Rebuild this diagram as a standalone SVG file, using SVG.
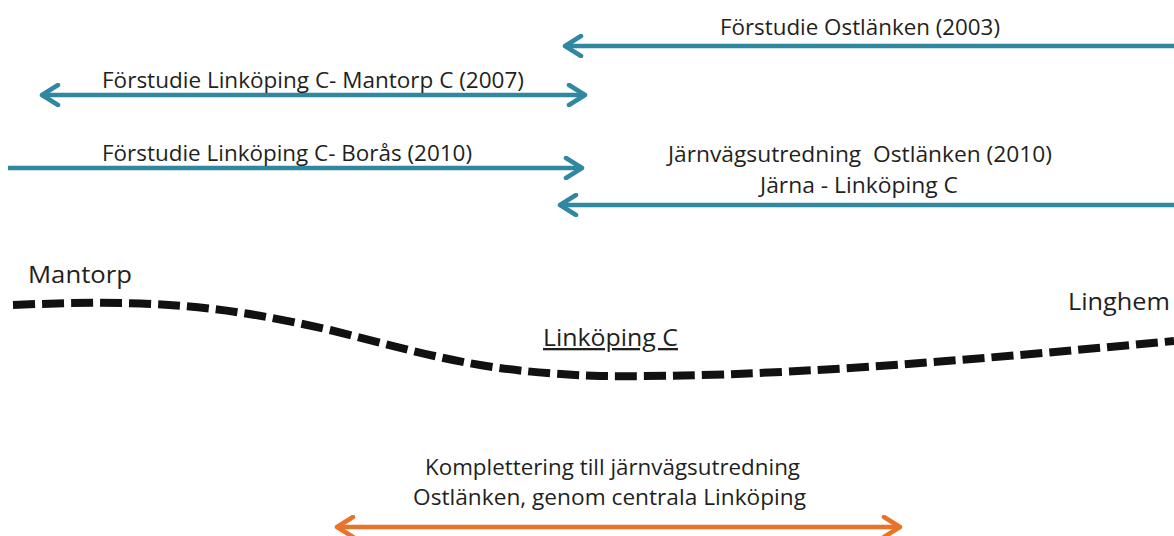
<svg xmlns="http://www.w3.org/2000/svg" width="1174" height="536" viewBox="0 0 1174 536">
<style>
text{font-family:"Open Sans","Noto Sans","Liberation Sans",sans-serif;font-size:22px;fill:#231f20}
.big{font-size:23px}
.t{stroke:#2f88a0;stroke-width:4.5;fill:none}
.o{stroke:#e8742a;stroke-width:4.5;fill:none}
.rail{stroke:#111;stroke-width:8;fill:none;stroke-dasharray:22 7}
</style>
<defs>
<marker id="ht" markerUnits="userSpaceOnUse" viewBox="-20 -12 24 24" markerWidth="24" markerHeight="24" refX="0" refY="0" orient="auto-start-reverse">
<path d="M-16,-10 L0,0 L-16,10" fill="none" stroke="#2f88a0" stroke-width="4.5" stroke-linecap="round" stroke-linejoin="round"/>
</marker>
<marker id="ho" markerUnits="userSpaceOnUse" viewBox="-20 -12 24 24" markerWidth="24" markerHeight="24" refX="0" refY="0" orient="auto-start-reverse">
<path d="M-16,-10 L0,0 L-16,10" fill="none" stroke="#e8742a" stroke-width="4.5" stroke-linecap="round" stroke-linejoin="round"/>
</marker>
</defs>
<g id="connectors">
<line id="a1" class="t" x1="1174" y1="46" x2="565" y2="46" marker-end="url(#ht)"/>
<line id="a2" class="t" x1="42" y1="95" x2="585" y2="95" marker-start="url(#ht)" marker-end="url(#ht)"/>
<line id="a3" class="t" x1="8" y1="168" x2="582" y2="168" marker-end="url(#ht)"/>
<line id="a4" class="t" x1="1174" y1="205" x2="560" y2="205" marker-end="url(#ht)"/>
<line id="a5" class="o" x1="337" y1="527" x2="900" y2="527" marker-start="url(#ho)" marker-end="url(#ho)"/>
</g>
<g id="rail">
<path class="rail" d="M13,305 C150,299 220,305 330,330 C430,355 480,372 600,376 C760,378 950,362 1174,341"/>
</g>
<g id="labels">
<g id="l1"><text x="720" y="35" textLength="280" lengthAdjust="spacingAndGlyphs">Förstudie Ostlänken (2003)</text></g>
<g id="l2"><text x="102" y="88" textLength="422" lengthAdjust="spacingAndGlyphs">Förstudie Linköping C- Mantorp C (2007)</text></g>
<g id="l3"><text x="102" y="161" textLength="370" lengthAdjust="spacingAndGlyphs">Förstudie Linköping C- Borås (2010)</text></g>
<g id="l4">
<text x="668" y="162" textLength="384" lengthAdjust="spacingAndGlyphs" xml:space="preserve">Järnvägsutredning  Ostlänken (2010)</text>
<text x="760" y="193" textLength="198" lengthAdjust="spacingAndGlyphs">Järna - Linköping C</text>
</g>
<g id="mantorp"><text class="big" x="28" y="283" textLength="104" lengthAdjust="spacingAndGlyphs">Mantorp</text></g>
<g id="linkoping"><text class="big" x="543" y="346" textLength="135" lengthAdjust="spacingAndGlyphs" text-decoration="underline">Linköping C</text></g>
<g id="linghem"><text class="big" x="1068" y="310" textLength="102" lengthAdjust="spacingAndGlyphs">Linghem</text></g>
<g id="l5">
<text x="425" y="475" textLength="375" lengthAdjust="spacingAndGlyphs">Komplettering till järnvägsutredning</text>
<text x="413" y="505" textLength="393" lengthAdjust="spacingAndGlyphs">Ostlänken, genom centrala Linköping</text>
</g>
</g>
</svg>
